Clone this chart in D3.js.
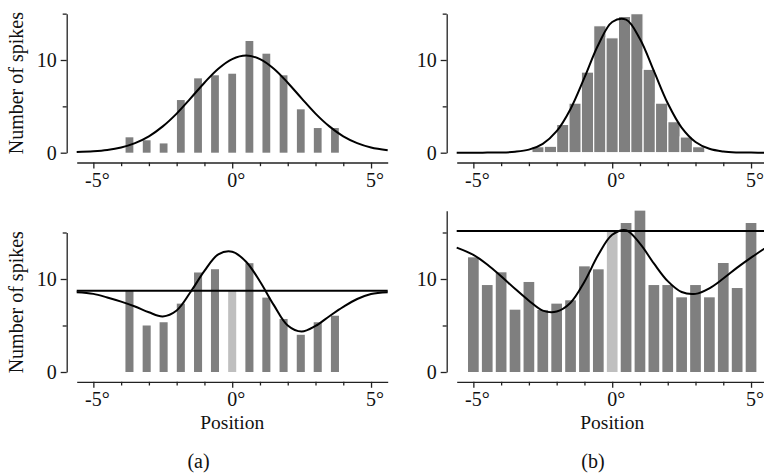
<!DOCTYPE html>
<html>
<head>
<meta charset="utf-8">
<script src="https://cdn.jsdelivr.net/npm/d3@7"></script>
<style>
    body { margin: 0; background: #fff; }
    svg text { font-family: "Liberation Serif", "DejaVu Serif", "Times New Roman", serif; fill: #111; }
</style>
</head>
<body>
<div id="chart"></div>
<script>
/* *******************************************************
   Data
******************************************************* */
// bin centres (degrees) and spike counts
const positionsA = [-3.7, -3.08, -2.47, -1.85, -1.23, -0.62, 0, 0.62, 1.23, 1.85, 2.47, 3.08, 3.7];
const countsTopA = [1.66, 1.34, 1.0, 5.68, 8.02, 8.35, 8.52, 12.05, 10.68, 8.35, 4.68, 2.66, 2.66];
const countsBottomA = [8.75, 5.0, 5.35, 7.35, 10.7, 11.05, 8.75, 11.7, 8.0, 5.7, 4.0, 5.35, 6.05];

const positionsTopB = [-2.67, -2.225, -1.78, -1.335, -0.89, -0.445, 0, 0.445, 0.89, 1.335, 1.78, 2.225, 2.67, 3.115];
const countsTopB = [0.65, 0.7, 3.05, 5.35, 8.7, 13.7, 12.4, 14.7, 15.0, 9.0, 5.35, 3.35, 1.7, 0.65];

const positionsBottomB = [-5, -4.5, -4, -3.5, -3, -2.5, -2, -1.5, -1, -0.5, 0, 0.5, 1, 1.5, 2, 2.5, 3, 3.5, 4, 4.5, 5];
const countsBottomB = [12.33, 9.35, 10.72, 6.7, 9.68, 6.67, 7.35, 7.71, 11.36, 11.04, 15.09, 16.02, 17.35,
    9.35, 9.35, 8.03, 9.35, 8.03, 11.72, 9.03, 16.02];

// fitted tuning curves, sampled along the position axis
const curveX = [-5.6, -5, -4.5, -4, -3.5, -3, -2.5, -2, -1.5, -1, -0.5, 0, 0.5, 1, 1.5, 2, 2.5, 3, 3.5, 4, 4.5, 5, 5.6];
const fitTopA = [0.08, 0.16, 0.3, 0.57, 1.04, 1.77, 2.84, 4.22, 5.86, 7.55, 9.06, 10.1, 10.48, 10.1, 9.06, 7.55, 5.86, 4.22, 2.84, 1.77, 1.04, 0.57, 0.26];
const fitTopB = [0, 0, 0.01, 0.02, 0.1, 0.33, 0.96, 2.32, 4.72, 8.09, 11.65, 14.1, 14.35, 12.27, 8.82, 5.33, 2.71, 1.16, 0.42, 0.13, 0.03, 0.01, 0];
const fitBottomA = [8.57, 8.4, 8.02, 7.57, 7.04, 6.42, 5.98, 6.62, 8.6, 10.87, 12.65, 12.93, 11.86, 9.73, 7.19, 5.0, 4.35, 4.95, 6.0, 7.0, 7.85, 8.38, 8.57];
const fitBottomB = [13.38, 12.6, 11.56, 10.29, 8.95, 7.67, 6.6, 6.5, 7.45, 9.7, 12.6, 14.75, 15.25, 13.8, 11.68, 9.77, 8.6, 8.4, 9.0, 10.05, 11.22, 12.3, 13.5];

// flat (baseline) levels of the lower panels
const flatA = 8.75;
const flatB = 15.15;

// ticks
const xTicks = [-5, -4, -3, -2, -1, 0, 1, 2, 3, 4, 5];
const xTickLabels = { "-5": "-5°", "0": "0°", "5": "5°" };
const yTicks = [0, 5, 10, 15];
const yTickLabels = { "0": "0", "10": "10" };

/* *******************************************************
   Set Chart Parameters
******************************************************* */
let width = 764;
let height = 474;
const serif = '"Liberation Serif", "DejaVu Serif", "Times New Roman", serif';

let svg = d3.select("#chart").append("svg")
    .attr("width", width).attr("height", height);

svg.append("rect").attr("width", width).attr("height", height).attr("fill", "#fff");

const dark = "#7f7f7f";
const light = "#bfbfbf";
const xDomain = [-5.6, 5.6];

// one entry per panel
let panels = [
    { left: 76.7, y0: 152.7, k: 9.27, yMax: 15, pos: positionsA, counts: countsTopA, barW: 0.28, gap: false,
      fit: fitTopA, flat: null, ylabel: true, xlabel: false },
    { left: 456.7, y0: 152.7, k: 9.27, yMax: 15, pos: positionsTopB, counts: countsTopB, barW: 0.445, gap: true,
      fit: fitTopB, flat: null, ylabel: false, xlabel: false },
    { left: 76.7, y0: 372, k: 9.3, yMax: 15, pos: positionsA, counts: countsBottomA, barW: 0.29, gap: false,
      fit: fitBottomA, flat: flatA, ylabel: true, xlabel: true },
    { left: 456.7, y0: 372, k: 9.3, yMax: d3.max(countsBottomB), pos: positionsBottomB, counts: countsBottomB, barW: 0.385, gap: false,
      fit: fitBottomB, flat: flatB, ylabel: false, xlabel: true }
];

/* *******************************************************
   Draw each panel
******************************************************* */
panels.forEach(function (p, i) {
    let g = svg.append("g");
    let bottomRow = i >= 2;

    // scales
    let x = d3.scaleLinear().domain(xDomain).range([p.left, p.left + 311]);
    let y = d3.scaleLinear().domain([0, p.yMax]).range([p.y0, p.y0 - p.yMax * p.k]);
    let axisX = p.left - 10;
    let axisY = p.y0 + 9.8;

    // bars
    let bars = p.pos.map((d, j) => ({ pos: d, count: p.counts[j] }));
    let bw = x(p.barW) - x(0);
    g.selectAll(".bar")
        .data(bars)
        .enter()
        .append("rect")
        .attr("class", "bar")
        .attr("x", d => x(d.pos) - bw / 2)
        .attr("y", d => y(d.count))
        .attr("width", bw)
        .attr("height", d => y(0) - y(d.count))
        .attr("fill", d => (bottomRow && d.pos === 0) ? light : dark)
        .attr("stroke", p.gap ? "#fff" : "none")
        .attr("stroke-width", 1.2);

    // line generator
    let line = d3.line()
        .x(d => x(d[0]))
        .y(d => y(d[1]));

    if (p.flat !== null) {
        g.append("path")
            .datum([[xDomain[0], p.flat], [xDomain[1], p.flat]])
            .attr("d", line)
            .attr("fill", "none")
            .attr("stroke", "#000")
            .attr("stroke-width", 2);
    }

    g.append("path")
        .datum(curveX.map((d, j) => [d, p.fit[j]]))
        .attr("d", line.curve(d3.curveCatmullRom.alpha(0.5)))
        .attr("fill", "none")
        .attr("stroke", "#000")
        .attr("stroke-width", 2);

    // y axis
    let yAxis = d3.axisLeft(y)
        .tickValues(yTicks.filter(t => t <= p.yMax + 0.01))
        .tickSize(6)
        .tickSizeOuter(0)
        .tickPadding(4)
        .tickFormat(d => yTickLabels[d] || "");
    let yg = g.append("g")
        .attr("transform", `translate(${axisX}, 0)`)
        .call(yAxis);
    yg.selectAll(".tick line").attr("x2", d => yTickLabels[d] ? -6 : -4);

    // x axis
    let xAxis = d3.axisBottom(x)
        .tickValues(xTicks)
        .tickSize(6)
        .tickSizeOuter(0)
        .tickPadding(4)
        .tickFormat(d => xTickLabels[d] || "");
    let xg = g.append("g")
        .attr("transform", `translate(0, ${axisY})`)
        .call(xAxis);
    xg.selectAll(".tick line").attr("y2", d => xTickLabels[d] ? 6 : 3.7);
    xg.selectAll(".tick text").attr("dx", 3.5);

    [yg, xg].forEach(function (ax) {
        ax.attr("font-family", serif).attr("font-size", 20);
        ax.select(".domain").attr("stroke", "#222").attr("stroke-width", 1.3);
        ax.selectAll(".tick line").attr("stroke", "#222").attr("stroke-width", 1.3);
        ax.selectAll(".tick text")
            .attr("font-family", serif)
            .attr("fill", "#111");
    });

    // axis titles
    if (p.ylabel) {
        let cy = (y(0) + y(p.yMax)) / 2;
        g.append("text")
            .attr("transform", `translate(23, ${cy}) rotate(-90)`)
            .attr("text-anchor", "middle")
            .attr("font-family", serif)
            .attr("font-size", 20)
            .text("Number of spikes");
    }
    if (p.xlabel) {
        g.append("text")
            .attr("x", x(0))
            .attr("y", 428.5)
            .attr("text-anchor", "middle")
            .attr("font-family", serif)
            .attr("font-size", 19.5)
            .text("Position");
    }
});

// sub-figure captions
svg.append("text").attr("x", 198.5).attr("y", 467.5).attr("text-anchor", "middle")
    .attr("font-family", serif).attr("font-size", 20).text("(a)");
svg.append("text").attr("x", 593).attr("y", 467.5).attr("text-anchor", "middle")
    .attr("font-family", serif).attr("font-size", 20).text("(b)");
</script>
</body>
</html>
